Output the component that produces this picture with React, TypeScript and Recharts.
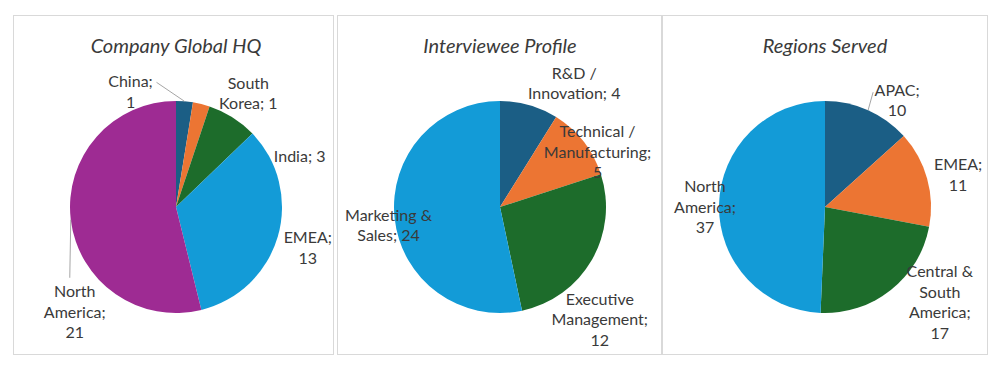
import React from "react";
import { PieChart, Pie, Cell } from "recharts";

// --- data -------------------------------------------------------------
const hqNames = ["China", "South Korea", "India", "EMEA", "North America"];
const hqValues = [1, 1, 3, 13, 21];

const profileNames = [
  "R&D / Innovation",
  "Technical / Manufacturing",
  "Executive Management",
  "Marketing & Sales",
];
const profileValues = [4, 5, 12, 24];

const regionNames = ["APAC", "EMEA", "Central & South America", "North America"];
const regionValues = [10, 11, 17, 37];

const titles = ["Company Global HQ", "Interviewee Profile", "Regions Served"];

// --- styling ----------------------------------------------------------
const DARK_BLUE = "#1b5e85";
const ORANGE = "#ec7533";
const GREEN = "#1d6c2b";
const LIGHT_BLUE = "#139bd7";
const PURPLE = "#9e2b93";

const hqColors = [DARK_BLUE, ORANGE, GREEN, LIGHT_BLUE, PURPLE];
const otherColors = [DARK_BLUE, ORANGE, GREEN, LIGHT_BLUE];

const FONT = "Lato, 'Open Sans', sans-serif";
const TEXT = "#3a3a3a";
const LINE_H = 20.5;

type LabelLayout = {
  dx: number; // offset of label block centre from slice edge point
  dy: number;
  wrap: number[]; // words per line
  leader?: [number, number]; // leader end, relative to label centre
};

const hqLayout: LabelLayout[] = [
  { dx: -54, dy: -11, wrap: [1, 1], leader: [26, -8] },
  { dx: 47, dy: -12, wrap: [1, 2] },
  { dx: 67, dy: 38, wrap: [2] },
  { dx: 30, dy: 10, wrap: [1, 1] },
  { dx: 4, dy: 91, wrap: [1, 1, 1], leader: [-5, -33] },
];

const profileLayout: LabelLayout[] = [
  { dx: 45, dy: -23, wrap: [2, 2] },
  { dx: 14, dy: 9, wrap: [2, 1, 1] },
  { dx: 8, dy: 58, wrap: [1, 1, 1] },
  { dx: -6, dy: 6, wrap: [2, 2] },
];

const regionLayout: LabelLayout[] = [
  { dx: 29, dy: -11, wrap: [1, 1], leader: [-24, -7] },
  { dx: 31, dy: -5, wrap: [1, 1] },
  { dx: 49, dy: 11, wrap: [2, 1, 1, 1] },
  { dx: -14, dy: 1, wrap: [1, 1, 1] },
];

const RADIAN = Math.PI / 180;

function splitLines(text: string, wrap: number[]) {
  const words = text.split(" ");
  const lines: string[] = [];
  let i = 0;
  wrap.forEach((n) => {
    lines.push(words.slice(i, i + n).join(" "));
    i += n;
  });
  return lines;
}

function makeLabel(layout: LabelLayout[]) {
  return (props: any) => {
    const { cx, cy, midAngle, outerRadius, index, name, value } = props;
    const cfg = layout[index];
    const ex = cx + outerRadius * Math.cos(-midAngle * RADIAN);
    const ey = cy + outerRadius * Math.sin(-midAngle * RADIAN);
    const x = ex + cfg.dx;
    const y = ey + cfg.dy;
    const lines = splitLines(`${name}; ${value}`, cfg.wrap);
    const y0 = y - ((lines.length - 1) * LINE_H) / 2;
    return (
      <g key={`lbl-${index}`}>
        {cfg.leader && (
          <line
            x1={ex}
            y1={ey}
            x2={x + cfg.leader[0]}
            y2={y + cfg.leader[1]}
            stroke="#a6a6a6"
            strokeWidth={1}
          />
        )}
        <text
          x={x}
          y={y0}
          textAnchor="middle"
          dominantBaseline="central"
          fill={TEXT}
          fontFamily={FONT}
          fontSize={16}
        >
          {lines.map((l, i) => (
            <tspan key={i} x={x} y={y0 + i * LINE_H}>
              {l}
            </tspan>
          ))}
        </text>
      </g>
    );
  };
}

type PanelProps = {
  left: number;
  width: number;
  title: string;
  names: string[];
  values: number[];
  colors: string[];
  layout: LabelLayout[];
};

function Panel({ left, width, title, names, values, colors, layout }: PanelProps) {
  const data = names.map((name, i) => ({ name, value: values[i] }));
  const cx = 163;
  const cy = 192;
  return (
    <div
      style={{
        position: "absolute",
        left,
        top: 15,
        width,
        height: 340,
        border: "1px solid #d9d9d9",
        boxSizing: "border-box",
        background: "#fff",
      }}
    >
      <PieChart width={width - 2} height={338} margin={{ top: 0, right: 0, bottom: 0, left: 0 }}>
        <text
          x={cx - 1}
          y={29}
          textAnchor="middle"
          dominantBaseline="central"
          fill={TEXT}
          fontFamily={FONT}
          fontSize={20}
          fontStyle="italic"
        >
          {title}
        </text>
        <Pie
          data={data}
          dataKey="value"
          nameKey="name"
          cx={cx - 1}
          cy={cy - 1}
          outerRadius={106}
          startAngle={90}
          endAngle={-270}
          stroke="none"
          label={makeLabel(layout)}
          labelLine={false}
          isAnimationActive={false}
        >
          {data.map((d, i) => (
            <Cell key={d.name} fill={colors[i]} />
          ))}
        </Pie>
      </PieChart>
    </div>
  );
}

export default function App() {
  return (
    <div
      style={{
        position: "absolute",
        left: 0,
        top: 0,
        width: 1000,
        height: 369,
        background: "#fff",
        overflow: "hidden",
      }}
    >
      <Panel left={13} width={321} title={titles[0]} names={hqNames} values={hqValues} colors={hqColors} layout={hqLayout} />
      <Panel left={337} width={325} title={titles[1]} names={profileNames} values={profileValues} colors={otherColors} layout={profileLayout} />
      <Panel left={662} width={326} title={titles[2]} names={regionNames} values={regionValues} colors={otherColors} layout={regionLayout} />
    </div>
  );
}
